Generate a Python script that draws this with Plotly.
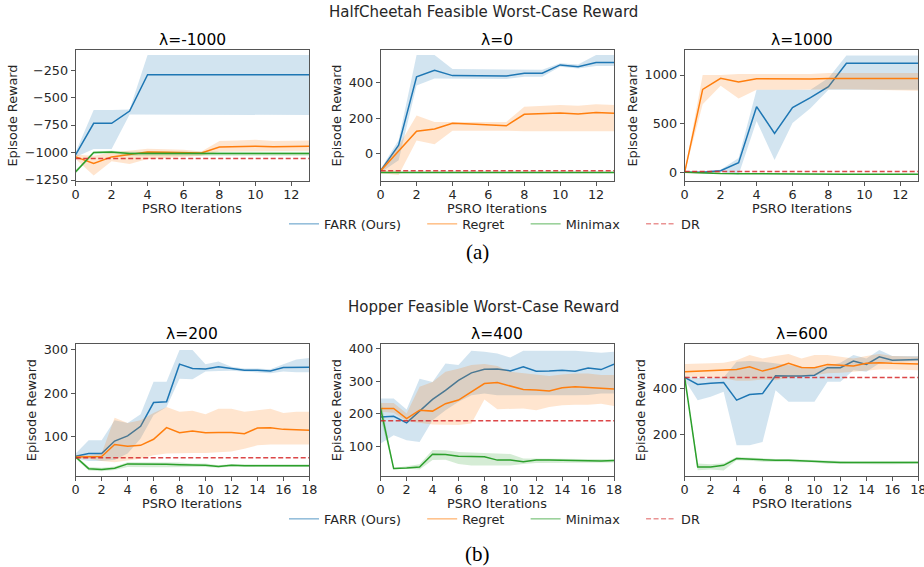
import plotly.graph_objects as go

W, H = 924, 567

# ---------------- data ----------------
iters_hc = list(range(14))
iters_hop = list(range(19))

# HalfCheetah, lambda = -1000
hc_m1000_farr = [-1020, -735, -735, -623, -292, -292, -292, -292, -292, -292, -292, -292, -292, -292]
hc_m1000_farr_lo = [-1040, -968, -968, -655, -659, -659, -659, -659, -659, -659, -659, -659, -659, -659]
hc_m1000_farr_hi = [-995, -614, -614, -610, -114, -114, -114, -114, -114, -114, -114, -114, -114, -114]
hc_m1000_regret = [-1040, -1100, -1040, -1015, -995, -997, -1000, -1005, -950, -945, -943, -947, -943, -943]
hc_m1000_regret_lo = [-1060, -1210, -1080, -1105, -1060, -1050, -1040, -1030, -990, -985, -985, -990, -985, -985]
hc_m1000_regret_hi = [-1020, -1030, -1000, -980, -965, -970, -975, -990, -895, -890, -885, -895, -890, -890]
hc_m1000_minimax = [-1175, -1000, -995, -1010, -1010, -1010, -1010, -1010, -1010, -1010, -1010, -1010, -1010, -1010]
hc_m1000_minimax_lo = [-1190, -1015, -1010, -1030, -1030, -1030, -1030, -1030, -1030, -1030, -1030, -1030, -1030, -1030]
hc_m1000_minimax_hi = [-1160, -990, -985, -992, -992, -992, -992, -992, -992, -992, -992, -992, -992, -992]
hc_m1000_dr = [-1055] * 14

# HalfCheetah, lambda = 0
hc_0_farr = [-100, 45, 435, 472, 442, 442, 441, 440, 455, 456, 503, 492, 517, 517]
hc_0_farr_lo = [-110, -40, 385, 425, 423, 423, 423, 423, 435, 435, 493, 482, 497, 497]
hc_0_farr_hi = [-90, 75, 560, 560, 479, 479, 479, 479, 475, 475, 513, 505, 560, 560]
hc_0_regret = [-100, 10, 125, 138, 170, 166, 161, 156, 221, 226, 229, 223, 232, 227]
hc_0_regret_lo = [-115, -125, 72, 50, 128, 128, 128, 128, 125, 125, 122, 125, 125, 125]
hc_0_regret_hi = [-90, 40, 215, 178, 178, 178, 178, 178, 265, 272, 275, 270, 278, 275]
hc_0_minimax = [-110] * 14
hc_0_minimax_lo = [-115] * 14
hc_0_minimax_hi = [-105] * 14
hc_0_dr = [-100] * 14

# HalfCheetah, lambda = 1000
hc_1000_farr = [5, 5, 20, 102, 676, 403, 666, 768, 881, 1120, 1120, 1120, 1120, 1120]
hc_1000_farr_lo = [0, 0, 10, -20, 530, 130, 510, 660, 850, 850, 850, 850, 850, 850]
hc_1000_farr_hi = [10, 15, 30, 150, 850, 850, 850, 850, 970, 1200, 1200, 1200, 1200, 1200]
hc_1000_regret = [5, 853, 966, 928, 962, 960, 960, 958, 963, 963, 963, 963, 963, 963]
hc_1000_regret_lo = [0, 700, 890, 760, 850, 850, 850, 850, 855, 855, 850, 850, 845, 840]
hc_1000_regret_hi = [10, 1000, 1000, 1010, 1010, 1010, 1010, 1010, 1020, 1020, 1020, 1020, 1020, 1020]
hc_1000_minimax = [5, -5, -8, -10, -12, -14, -15, -15, -15, -15, -15, -15, -15, -15]
hc_1000_minimax_lo = [0, -10, -13, -15, -17, -19, -20, -20, -20, -20, -20, -20, -20, -20]
hc_1000_minimax_hi = [10, 0, -3, -5, -7, -9, -10, -10, -10, -10, -10, -10, -10, -10]
hc_1000_dr = [12] * 14

# Hopper, lambda = 200
hop_200_farr = [54, 60, 60, 89, 101, 123, 178, 180, 267, 257, 256, 261, 257, 253, 253, 251, 259, 260, 260]
hop_200_farr_lo = [48, 43, 43, 45, 60, 95, 149, 168, 233, 232, 250, 251, 252, 250, 248, 246, 250, 248, 248]
hop_200_farr_hi = [60, 91, 91, 137, 131, 151, 226, 226, 300, 300, 267, 273, 261, 257, 257, 255, 267, 278, 281]
hop_200_regret = [52, 52, 53, 81, 77, 79, 93, 120, 108, 112, 108, 109, 109, 106, 119, 120, 116, 115, 114]
hop_200_regret_lo = [48, 48, 43, 40, 44, 48, 56, 60, 60, 61, 61, 63, 65, 71, 79, 81, 81, 81, 81]
hop_200_regret_hi = [56, 56, 60, 143, 131, 137, 154, 168, 157, 159, 151, 164, 164, 157, 160, 164, 154, 157, 157]
hop_200_minimax = [52, 25, 23, 26, 36, 36, 35, 35, 34, 33, 33, 30, 33, 32, 32, 32, 32, 32, 32]
hop_200_minimax_lo = [48, 21, 19, 22, 29, 29, 28, 28, 28, 29, 29, 27, 30, 29, 29, 29, 29, 29, 29]
hop_200_minimax_hi = [56, 29, 27, 30, 40, 40, 39, 39, 39, 37, 37, 33, 36, 35, 35, 35, 35, 35, 35]
hop_200_dr = [50] * 19

# Hopper, lambda = 400
hop_400_farr = [190, 192, 172, 209, 244, 272, 303, 326, 337, 338, 332, 345, 331, 332, 334, 331, 341, 336, 353]
hop_400_farr_lo = [108, 134, 118, 113, 180, 211, 237, 257, 262, 257, 257, 257, 257, 257, 257, 257, 258, 262, 262]
hop_400_farr_hi = [247, 247, 213, 308, 298, 355, 350, 394, 391, 386, 373, 394, 394, 394, 394, 394, 391, 388, 391]
hop_400_regret = [216, 216, 185, 211, 208, 231, 242, 267, 293, 296, 286, 275, 273, 270, 280, 283, 281, 279, 276]
hop_400_regret_lo = [206, 203, 177, 172, 167, 165, 165, 170, 244, 214, 216, 216, 211, 221, 226, 228, 228, 231, 224]
hop_400_regret_hi = [233, 233, 201, 283, 298, 329, 339, 350, 353, 347, 329, 324, 319, 316, 321, 324, 324, 319, 319]
hop_400_minimax = [215, 31, 33, 36, 75, 74, 69, 67, 67, 57, 57, 52, 57, 57, 56, 55, 54, 54, 56]
hop_400_minimax_lo = [185, 28, 30, 28, 57, 58, 45, 40, 40, 40, 40, 45, 48, 50, 50, 50, 50, 50, 50]
hop_400_minimax_hi = [245, 33, 38, 44, 88, 87, 82, 80, 80, 78, 76, 62, 62, 60, 60, 60, 60, 60, 60]
hop_400_dr = [178] * 19

# Hopper, lambda = 600
hop_600_farr = [450, 419, 424, 428, 350, 375, 379, 457, 456, 456, 460, 493, 493, 522, 507, 541, 526, 529, 529]
hop_600_farr_lo = [440, 350, 365, 387, 151, 151, 166, 394, 343, 343, 343, 431, 431, 482, 475, 512, 519, 522, 522]
hop_600_farr_hi = [455, 448, 448, 450, 519, 523, 519, 512, 504, 495, 490, 500, 515, 549, 534, 571, 544, 544, 544]
hop_600_regret = [475, 478, 481, 484, 485, 497, 478, 493, 512, 494, 493, 507, 504, 500, 512, 515, 512, 512, 509]
hop_600_regret_lo = [453, 453, 450, 446, 435, 435, 441, 438, 450, 456, 460, 468, 471, 475, 479, 485, 485, 485, 482]
hop_600_regret_hi = [509, 509, 512, 515, 526, 549, 534, 544, 553, 534, 549, 549, 541, 534, 544, 553, 544, 541, 541]
hop_600_minimax = [450, 56, 56, 63, 93, 90, 85, 85, 85, 82, 82, 76, 76, 75, 75, 74, 74, 74, 76]
hop_600_minimax_lo = [445, 41, 45, 40, 85, 83, 79, 79, 79, 76, 76, 70, 70, 69, 69, 68, 68, 68, 70]
hop_600_minimax_hi = [455, 71, 68, 72, 100, 97, 91, 91, 91, 88, 88, 82, 82, 81, 81, 80, 80, 80, 82]
hop_600_dr = [450] * 19

method_names = ["FARR (Ours)", "Regret", "Minimax", "DR"]
panel_titles = ["λ=-1000", "λ=0", "λ=1000", "λ=200", "λ=400", "λ=600"]
row_titles = ["HalfCheetah Feasible Worst-Case Reward", "Hopper Feasible Worst-Case Reward"]
row_labels = ["(a)", "(b)"]
x_label = "PSRO Iterations"
y_label = "Episode Reward"

panels = [
    (iters_hc, [(hc_m1000_farr, hc_m1000_farr_lo, hc_m1000_farr_hi),
                (hc_m1000_regret, hc_m1000_regret_lo, hc_m1000_regret_hi),
                (hc_m1000_minimax, hc_m1000_minimax_lo, hc_m1000_minimax_hi)], hc_m1000_dr),
    (iters_hc, [(hc_0_farr, hc_0_farr_lo, hc_0_farr_hi),
                (hc_0_regret, hc_0_regret_lo, hc_0_regret_hi),
                (hc_0_minimax, hc_0_minimax_lo, hc_0_minimax_hi)], hc_0_dr),
    (iters_hc, [(hc_1000_farr, hc_1000_farr_lo, hc_1000_farr_hi),
                (hc_1000_regret, hc_1000_regret_lo, hc_1000_regret_hi),
                (hc_1000_minimax, hc_1000_minimax_lo, hc_1000_minimax_hi)], hc_1000_dr),
    (iters_hop, [(hop_200_farr, hop_200_farr_lo, hop_200_farr_hi),
                 (hop_200_regret, hop_200_regret_lo, hop_200_regret_hi),
                 (hop_200_minimax, hop_200_minimax_lo, hop_200_minimax_hi)], hop_200_dr),
    (iters_hop, [(hop_400_farr, hop_400_farr_lo, hop_400_farr_hi),
                 (hop_400_regret, hop_400_regret_lo, hop_400_regret_hi),
                 (hop_400_minimax, hop_400_minimax_lo, hop_400_minimax_hi)], hop_400_dr),
    (iters_hop, [(hop_600_farr, hop_600_farr_lo, hop_600_farr_hi),
                 (hop_600_regret, hop_600_regret_lo, hop_600_regret_hi),
                 (hop_600_minimax, hop_600_minimax_lo, hop_600_minimax_hi)], hop_600_dr),
]

# ---------------- style / layout ----------------
FONT = "DejaVu Sans"
FS = 12.8
TXT = "#262626"
line_colors = ["#1f77b4", "#ff7f0e", "#2ca02c"]
fill_colors = ["rgba(31,119,180,0.2)", "rgba(255,127,14,0.2)", "rgba(44,160,44,0.2)"]
legend_colors = ["rgba(31,119,180,0.5)", "rgba(255,127,14,0.5)", "rgba(44,160,44,0.5)", "rgba(214,39,40,0.5)"]
dr_color = "rgba(214,39,40,0.85)"
DASH = "5px,2.5px"
PAD = "\u00a0" * 4  # extra spacing between legend entries

col_px = [(75.7, 309.3), (380.7, 614.0), (684.7, 918.3)]
row_px = [(50.0, 181.0), (344.3, 476.0)]
x_title_y = [208.5, 503.5]
x_ranges = [[0, 13], [0, 18]]
y_ranges = [[-1259, -68], [-159, 588], [-85, 1256], [8, 313], [8, 414], [16, 596]]
y_dticks = [250, 200, 500, 100, 100, 200]


def px_x(p):
    return p / W


def px_y(p):
    return 1 - p / H


fig = go.Figure()

for k, (xs, series, dr) in enumerate(panels):
    ax = "" if k == 0 else str(k + 1)
    for j, (m, lo, hi) in enumerate(series):
        fig.add_trace(go.Scatter(
            x=xs, y=m, mode="lines", line=dict(color=line_colors[j], width=1.5),
            xaxis="x" + ax, yaxis="y" + ax, showlegend=False, hoverinfo="skip"))
        fig.add_trace(go.Scatter(
            x=list(xs) + list(xs)[::-1], y=list(hi) + list(lo)[::-1], mode="lines",
            fill="toself", fillcolor=fill_colors[j], line=dict(width=0),
            xaxis="x" + ax, yaxis="y" + ax, showlegend=False, hoverinfo="skip"))
    fig.add_trace(go.Scatter(
        x=xs, y=dr, mode="lines", line=dict(color=dr_color, width=1.5, dash=DASH),
        xaxis="x" + ax, yaxis="y" + ax, showlegend=False, hoverinfo="skip"))

# legend entries (one legend per row)
for r, (lg, ax) in enumerate([("legend", ""), ("legend2", "4")]):
    for j, name in enumerate(method_names):
        fig.add_trace(go.Scatter(
            x=[None], y=[None], mode="lines", name=name + (PAD if j < 3 else ""),
            line=dict(color=legend_colors[j], width=1.5, dash=DASH if j == 3 else "solid"),
            xaxis="x" + ax, yaxis="y" + ax, legend=lg, showlegend=True))

axis_common = dict(showgrid=False, zeroline=False, showline=True, mirror=True,
                   linecolor="#555", linewidth=1, ticks="outside", ticklen=4,
                   tickcolor="#555", tickwidth=1, automargin=False,
                   tickfont=dict(family=FONT, size=FS, color=TXT))

layout = dict(
    width=W, height=H, margin=dict(l=0, r=0, t=0, b=0, autoexpand=False),
    paper_bgcolor="white", plot_bgcolor="white",
    font=dict(family=FONT, size=FS, color=TXT),
)

annotations = []
for k in range(6):
    r, c = divmod(k, 3)
    sx = "" if k == 0 else str(k + 1)
    xd = [px_x(col_px[c][0]), px_x(col_px[c][1])]
    yd = [px_y(row_px[r][1]), px_y(row_px[r][0])]
    layout["xaxis" + sx] = dict(axis_common, domain=xd, anchor="y" + sx, range=x_ranges[r],
                                dtick=2, tick0=0, ticklabelstandoff=-2,
                                ticklabeloverflow="allow")
    layout["yaxis" + sx] = dict(axis_common, domain=yd, anchor="x" + sx, range=y_ranges[k],
                                dtick=y_dticks[k], tick0=0,
                                title=dict(text=y_label, font=dict(family=FONT, size=FS, color=TXT), standoff=4))
    # subplot title
    annotations.append(dict(text=panel_titles[k], x=(xd[0] + xd[1]) / 2,
                            y=px_y([39.5, 334.0][r]), xref="paper", yref="paper",
                            xanchor="center", yanchor="middle", showarrow=False,
                            font=dict(family=FONT, size=15.5, color="black")))
    # x-axis title
    annotations.append(dict(text=x_label, x=(xd[0] + xd[1]) / 2,
                            y=px_y(x_title_y[r]), xref="paper", yref="paper",
                            xanchor="center", yanchor="middle", showarrow=False,
                            font=dict(family=FONT, size=FS, color=TXT)))

for r in range(2):
    annotations.append(dict(text=row_titles[r], x=px_x(483.5), y=px_y([12.5, 307.0][r]),
                            xref="paper", yref="paper", xanchor="center", yanchor="middle",
                            showarrow=False, font=dict(family=FONT, size=15, color=TXT)))
    annotations.append(dict(text=row_labels[r], x=px_x(478), y=px_y([252.0, 554.0][r]),
                            xref="paper", yref="paper", xanchor="center", yanchor="middle",
                            showarrow=False, font=dict(family="Liberation Serif", size=21, color="black")))

layout["annotations"] = annotations

leg_common = dict(orientation="h", xanchor="left", yanchor="middle", bgcolor="rgba(0,0,0,0)",
                  xref="container", yref="container",
                  font=dict(family=FONT, size=FS, color=TXT), itemwidth=30,
                  tracegroupgap=0)
layout["legend"] = dict(leg_common, x=px_x(284), y=px_y(224))
layout["legend2"] = dict(leg_common, x=px_x(284), y=px_y(519))

fig.update_layout(**layout)
fig.write_html("out.html", config={"displayModeBar": False},
               post_script=["document.body.style.margin='0px';"])
